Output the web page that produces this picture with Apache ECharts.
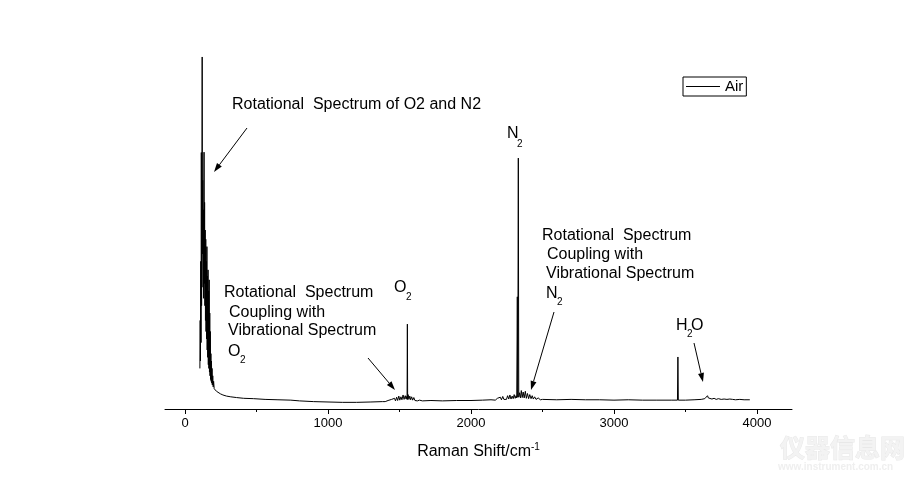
<!DOCTYPE html>
<html>
<head>
<meta charset="utf-8">
<title>Raman spectrum of air</title>
<script src="https://cdn.jsdelivr.net/npm/echarts@6.0.0/dist/echarts.min.js"></script>
<style>
  html, body { margin: 0; padding: 0; background: #fff; }
  #chart { width: 920px; height: 489px; }
</style>
</head>
<body>
<div id="chart"></div>
<script>
// Raman shift (cm-1) and intensity (arb. units)
const shifts = [
  104, 106, 108, 110, 112, 114, 116, 118, 120, 122, 124, 126, 128, 130, 133, 135,
  137, 139, 141, 143, 145, 147, 149, 151, 153, 155, 157, 159, 161, 163, 165, 167,
  169, 171, 173, 175, 177, 179, 181, 183, 185, 187, 189, 191, 194, 197, 200, 204,
  210, 220, 232, 248, 265, 290, 320, 360, 410, 480, 560, 650, 740, 800, 900, 1000,
  1100, 1200, 1300, 1380,
  1400, 1420, 1430, 1445, 1455, 1465, 1472, 1480, 1487, 1495, 1502, 1510, 1517, 1525,
  1532, 1540, 1546, 1551, 1553, 1555, 1557, 1560, 1566, 1572, 1578, 1585, 1592, 1600,
  1608, 1616, 1625, 1640, 1660,
  1720, 1800, 1900, 2000, 2080, 2140,
  2170, 2185, 2195, 2205, 2213, 2222, 2230, 2240, 2248, 2256, 2264, 2272, 2280, 2288,
  2295, 2302, 2309, 2315, 2320, 2324, 2327, 2331, 2334, 2340, 2346, 2352, 2358, 2365,
  2372, 2380, 2387, 2395, 2403, 2411, 2420, 2428, 2436, 2445, 2455, 2470, 2485, 2500,
  2600, 2700, 2800, 2900, 3000, 3100, 3200, 3300, 3400, 3444, 3447, 3450, 3500, 3560,
  3610, 3635, 3648, 3654, 3660, 3670, 3685, 3700, 3715, 3730, 3750, 3770, 3790, 3810,
  3830, 3850, 3880, 3910, 3950
];
const intensity = [
  11, 24, 13, 40, 18, 69.5, 28, 52, 95.4, 42, 62, 33, 54, 30, 69.6, 34,
  56, 28, 48.5, 24, 46, 21, 40, 19, 44, 16, 36, 14, 37.7, 12, 32, 11,
  35, 10, 26, 9, 21, 8, 15, 7.5, 13, 7, 11, 6.5, 9, 6, 7.5, 5.5,
  5.2, 4.8, 4.4, 4.1, 3.8, 3.5, 3.3, 3.1, 2.9, 2.8, 2.6, 2.5, 2.4, 2.2, 2.0, 1.9,
  1.8, 1.8, 1.9, 2.0,
  2.0, 2.3, 2.0, 2.6, 2.1, 2.9, 2.2, 3.2, 2.3, 3.5, 2.4, 3.3, 2.5, 3.8,
  2.6, 3.6, 2.7, 3.4, 2.6, 23.0, 2.6, 3.9, 2.6, 3.5, 2.5, 3.3, 2.4, 3.1,
  2.3, 2.8, 2.2, 2.4, 2.2,
  2.3, 2.2, 2.3, 2.3, 2.4, 2.5,
  2.4, 2.9, 2.4, 3.2, 2.5, 3.4, 2.6, 3.1, 2.6, 3.6, 2.7, 3.8, 2.7, 3.5,
  2.8, 3.9, 2.9, 3.6, 3.0, 30.4, 3.2, 68.0, 3.2, 4.4, 3.0, 5.0, 3.1, 4.6,
  3.0, 4.8, 2.9, 4.2, 2.8, 3.9, 2.8, 3.6, 2.7, 3.3, 2.6, 3.0, 2.5, 2.6,
  2.5, 2.6, 2.5, 2.5, 2.4, 2.5, 2.4, 2.4, 2.4, 2.4, 14.1, 2.4, 2.4, 2.5,
  2.6, 2.8, 3.3, 3.6, 3.0, 2.8, 2.7, 2.9, 2.6, 2.8, 2.6, 2.7, 2.6, 2.7,
  2.6, 2.5, 2.6, 2.5, 2.5
];
const xTicks = [0, 1000, 2000, 3000, 4000];
const xMinorTicks = [500, 1500, 2500, 3500];

const FONT = '"Liberation Sans", Arial, sans-serif';
const spectrum = shifts.map((s, i) => [s, intensity[i]]);

function label(text, x, y, size) {
  return {
    type: 'text', x: x, y: y,
    style: { text: text, fontSize: size || 16, fontFamily: FONT, fill: '#000', verticalAlign: 'middle' }
  };
}

function arrow(x1, y1, x2, y2) {
  const a = Math.atan2(y2 - y1, x2 - x1);
  const len = 9, half = 3;
  const bx = x2 - len * Math.cos(a), by = y2 - len * Math.sin(a);
  const px = -Math.sin(a) * half, py = Math.cos(a) * half;
  return [
    { type: 'line', shape: { x1: x1, y1: y1, x2: bx, y2: by }, style: { stroke: '#000', lineWidth: 1 } },
    { type: 'polygon', shape: { points: [[x2, y2], [bx + px, by + py], [bx - px, by - py]] }, style: { fill: '#000' } }
  ];
}

const graphics = [
  label('Rotational  Spectrum of O2 and N2', 232, 105),
  ...arrow(247, 128, 214, 172),

  label('N', 507, 134),
  label('2', 517, 144, 10),

  label('Rotational  Spectrum', 542, 236),
  label('Coupling with', 547, 255),
  label('Vibrational Spectrum', 546, 274),
  label('N', 546, 294),
  label('2', 557, 302, 10),
  ...arrow(554, 312, 531, 390),

  label('O', 394, 288),
  label('2', 406, 297, 10),

  label('Rotational  Spectrum', 224, 293),
  label('Coupling with', 229, 313),
  label('Vibrational Spectrum', 228, 331),
  label('O', 228, 352),
  label('2', 240, 360, 10),
  ...arrow(368, 358, 395, 390),

  label('H', 676, 326),
  label('2', 687, 334, 10),
  label('O', 691, 326),
  ...arrow(694, 343, 703, 382),

  // faint watermark
  {
    type: 'text', x: 780, y: 447,
    style: { text: '仪器信息网', fontSize: 25, fontWeight: 'bold', fontFamily: '"Noto Sans CJK SC"',
      fill: '#f3f3f3', stroke: '#e8e8e8', lineWidth: 1, verticalAlign: 'middle' }
  },
  {
    type: 'text', x: 778, y: 467,
    style: { text: 'www.instrument.com.cn', fontSize: 10, fontWeight: 'bold', fontFamily: FONT,
      fill: '#efefef', verticalAlign: 'middle' }
  }
];

const chart = echarts.init(document.getElementById('chart'));
chart.setOption({
  animation: false,
  backgroundColor: '#fff',
  grid: { left: 165, right: 128, top: 40, bottom: 80, outerBoundsMode: 'none' },
  legend: {
    left: 683, top: 77,
    padding: [2, 3, 2, 3],
    borderColor: '#000', borderWidth: 1, borderRadius: 0,
    icon: 'rect',
    itemWidth: 34, itemHeight: 1, itemGap: 5,
    textStyle: { fontSize: 15, lineHeight: 15, color: '#000', fontFamily: FONT }
  },
  xAxis: [
    {
      type: 'value', min: -140, max: 4245,
      name: '{m|Raman Shift/cm}{sup|-1}',
      nameLocation: 'middle', nameGap: 33,
      nameTextStyle: {
        color: '#000', fontFamily: FONT,
        rich: {
          m: { fontSize: 16, lineHeight: 20, fontFamily: FONT, color: '#000' },
          sup: { fontSize: 10, lineHeight: 10, verticalAlign: 'top', fontFamily: FONT, color: '#000' }
        }
      },
      axisLine: { lineStyle: { color: '#000', width: 1 } },
      axisTick: { customValues: xTicks, length: 5, lineStyle: { color: '#000' } },
      axisLabel: {
        customValues: xTicks, margin: 8, fontSize: 13, color: '#000', fontFamily: FONT,
        formatter: v => String(v)
      },
      splitLine: { show: false }
    },
    {
      type: 'value', min: -140, max: 4245, position: 'bottom',
      axisLine: { show: true, lineStyle: { color: 'rgba(0,0,0,0)' } },
      axisTick: { show: true, customValues: xMinorTicks, length: 3, lineStyle: { color: '#000' } },
      axisLabel: { show: false },
      splitLine: { show: false }
    }
  ],
  yAxis: { type: 'value', min: 0, max: 100, show: false },
  series: [
    {
      name: 'Air',
      type: 'line',
      xAxisIndex: 0,
      data: spectrum,
      symbol: 'none',
      lineStyle: { color: '#000', width: 1 },
      itemStyle: { color: '#000' }
    }
  ],
  graphic: graphics
});
</script>
</body>
</html>
